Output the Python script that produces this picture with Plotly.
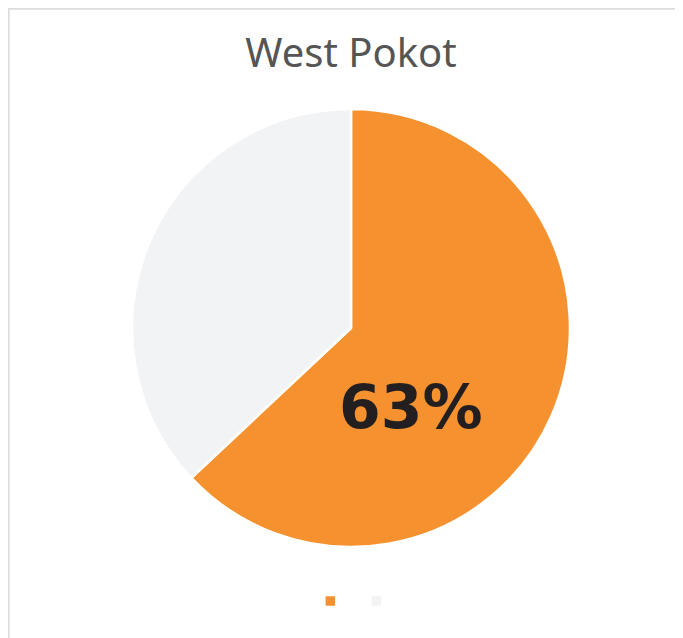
import plotly.graph_objects as go

# data
region = "West Pokot"
labels = ["Yes", "No"]
values = [63, 37]
colors = ["#F5922F", "#F2F3F5"]

share = round(100 * values[0] / sum(values))

fig = go.Figure()

fig.add_trace(go.Pie(
    labels=labels,
    values=values,
    sort=False,
    direction="clockwise",
    rotation=0,
    textinfo="none",
    hoverinfo="label+percent",
    marker=dict(colors=colors, line=dict(color="white", width=2.5)),
    domain=dict(x=[0.1816, 0.8228], y=[0.1552, 0.8417]),
))

# big percentage label
fig.add_annotation(
    text=f"<b>{share}%</b>",
    x=0.5905, y=0.375, xref="paper", yref="paper",
    showarrow=False,
    font=dict(family="DejaVu Sans, sans-serif", size=60, color="#231F20"),
)

# card border
fig.add_shape(
    type="rect", xref="paper", yref="paper",
    x0=0.001, x1=1.05, y0=-0.05, y1=0.999,
    line=dict(color="#DDDDDD", width=2), fillcolor="rgba(0,0,0,0)",
    layer="below",
)

fig.update_layout(
    width=683,
    height=638,
    margin=dict(l=0, r=0, t=0, b=0),
    paper_bgcolor="white",
    plot_bgcolor="white",
    title=dict(
        text=region,
        x=0.5022, xref="paper", xanchor="center",
        y=0.9295, yref="container", yanchor="middle",
        font=dict(family="Noto Sans, sans-serif", size=40, color="#555555"),
    ),
    showlegend=True,
    legend=dict(
        orientation="h",
        x=0.510, xanchor="center",
        y=0.0705, yanchor="middle",
        font=dict(size=1, color="white"),
        entrywidth=1,
        entrywidthmode="pixels",
    ),
)

fig.write_html("out.html")
